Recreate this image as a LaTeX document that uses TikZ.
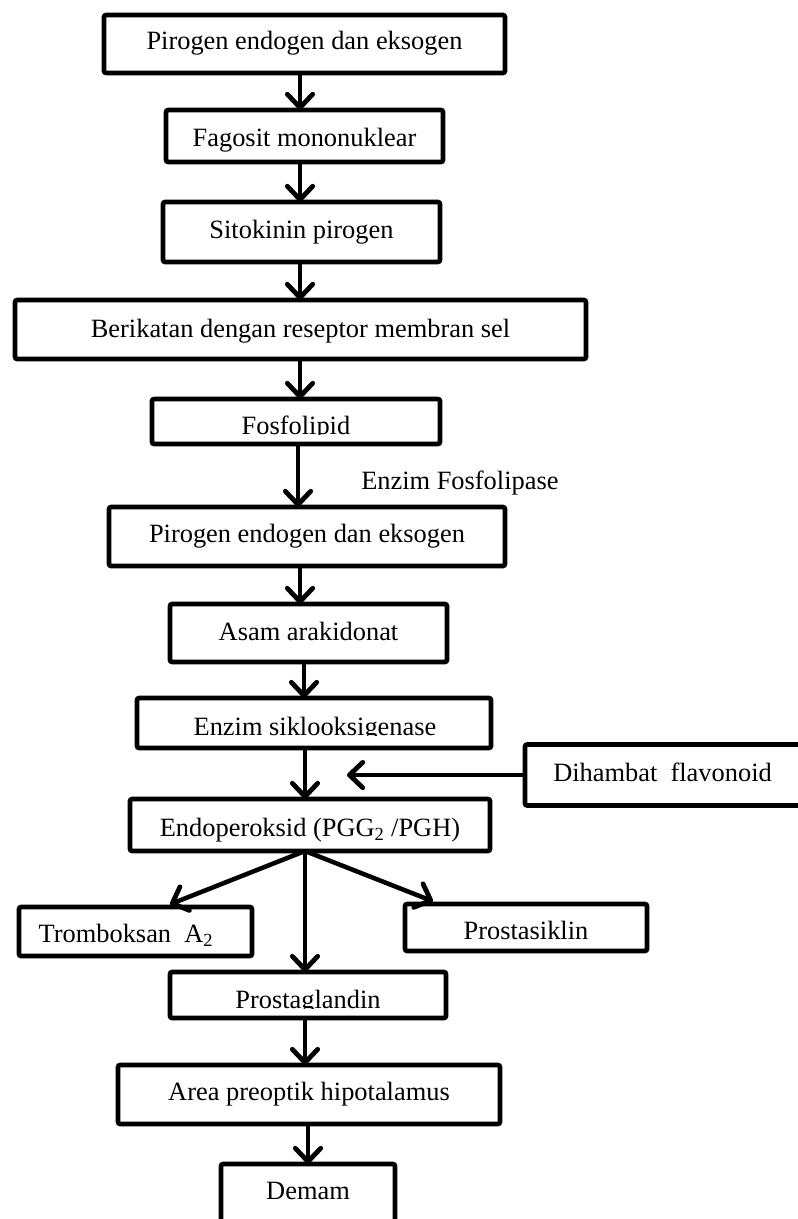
\documentclass[tikz,border=0pt]{standalone}
\usepackage{fontspec}
\setmainfont{Liberation Serif}
\usetikzlibrary{arrows.meta}
\newdimen\pxu \pxu=0.75pt
\begin{document}
\begin{tikzpicture}[x=0.75pt,y=-0.75pt,
  box/.style={draw, line width=3.4pt, rounded corners=1.5pt, inner sep=0pt, outer sep=0pt},
  lbl/.style={inner sep=0pt, font=\fontsize{19.8}{24}\selectfont, anchor=base},
  arr/.style={line width=3.4pt, -{Straight Barb[length=10pt,width=19pt,line width=3.6pt,round]}},
  ]
\useasboundingbox (0,0) rectangle (797,1219);
% x positions of connectors
\coordinate (x298) at (298,0);
\coordinate (x300) at (300,0);
\coordinate (x304) at (304,0);
\coordinate (x305) at (305,0);
\coordinate (x308) at (308,0);
\coordinate (x170) at (170,0);
\coordinate (x433) at (433,0);
% boxes
\node[box, minimum width=401\pxu, minimum height=58\pxu] (b1) at (304.5,44) {};
\node[box, minimum width=277\pxu, minimum height=52\pxu] (b2) at (304.5,136) {};
\node[box, minimum width=277\pxu, minimum height=60\pxu] (b3) at (301.5,232) {};
\node[box, minimum width=571\pxu, minimum height=59\pxu] (b4) at (300.5,329.5) {};
\node[box, minimum width=288\pxu, minimum height=45\pxu] (b5) at (296,421.5) {};
\node[box, minimum width=396\pxu, minimum height=59\pxu] (b6) at (307,536.5) {};
\node[box, minimum width=277\pxu, minimum height=58\pxu] (b7) at (308.5,633) {};
\node[box, minimum width=354\pxu, minimum height=50\pxu] (b8) at (314,723) {};
\node[box, minimum width=450\pxu, minimum height=61\pxu] (dh) at (750,775) {};
\node[box, minimum width=360\pxu, minimum height=52\pxu] (b9) at (310,825) {};
\node[box, minimum width=233\pxu, minimum height=49\pxu] (tr) at (135.5,931.5) {};
\node[box, minimum width=242\pxu, minimum height=47\pxu] (ps) at (526,927.5) {};
\node[box, minimum width=276\pxu, minimum height=46\pxu] (pg) at (308,995) {};
\node[box, minimum width=382\pxu, minimum height=59\pxu] (ar) at (309,1094.5) {};
\node[box, minimum width=174\pxu, minimum height=96\pxu] (dm) at (308,1212) {};
% texts
\node[lbl] (t1) at (304.5,50) {Pirogen endogen dan eksogen};
\node[lbl] (t2) at (304.5,147) {Fagosit mononuklear};
\node[lbl] (t3) at (301.5,239) {Sitokinin pirogen};
\node[lbl] (t4) at (300.5,337) {Berikatan dengan reseptor membran sel};
\begin{scope}
  \clip (152,400) rectangle (440,434.5);
  \node[lbl] (t5) at (296,434) {Fosfolipid};
\end{scope}
\node[lbl, anchor=base west] (tef) at (361,489) {Enzim Fosfolipase};
\node[lbl] (t6) at (307,542) {Pirogen endogen dan eksogen};
\node[lbl] (t7) at (308.5,640) {Asam arakidonat};
\begin{scope}
  \clip (137,699) rectangle (491,735.5);
  \node[lbl] (t8) at (315,735) {Enzim siklooksigenase};
\end{scope}
\node[lbl, anchor=base west] (tdh) at (553,781) {Dihambat\ \ flavonoid};
\node[lbl] (t9) at (310,836) {Endoperoksid (PGG\textsubscript{2} /PGH)};
\node[lbl] (ttr) at (126,942) {Tromboksan\ \ A\textsubscript{2}};
\node[lbl] (tps) at (526,939) {Prostasiklin};
\begin{scope}
  \clip (170,973) rectangle (446,1008.5);
  \node[lbl] (tpg) at (308,1008) {Prostaglandin};
\end{scope}
\node[lbl] (tar) at (309,1100) {Area preoptik hipotalamus};
\node[lbl] (tdm) at (308,1199) {Demam};
% connectors
\draw[arr] (b1.south -| x300) -- (b2.north -| x300);
\draw[arr] (b2.south -| x300) -- (b3.north -| x300);
\draw[arr] (b3.south -| x300) -- (b4.north -| x300);
\draw[arr] (b4.south -| x300) -- (b5.north -| x300);
\draw[arr] (b5.south -| x298) -- (b6.north -| x298);
\draw[arr] (b6.south -| x300) -- (b7.north -| x300);
\draw[arr] (b7.south -| x304) -- (b8.north -| x304);
\draw[arr] (b8.south -| x305) -- (b9.north -| x305);
\coordinate (dhend) at (347,775);
\draw[arr] (dh.west) -- (dhend);
\draw[arr] (b9.south -| x305) -- ([yshift=2pt]tr.north -| x170);
\draw[arr] (b9.south -| x305) -- ([yshift=2pt]ps.north -| x433);
\draw[arr] (b9.south -| x305) -- (pg.north -| x305);
\draw[arr] (pg.south -| x305) -- (ar.north -| x305);
\draw[arr] (ar.south -| x308) -- (dm.north -| x308);
\end{tikzpicture}
\end{document}
